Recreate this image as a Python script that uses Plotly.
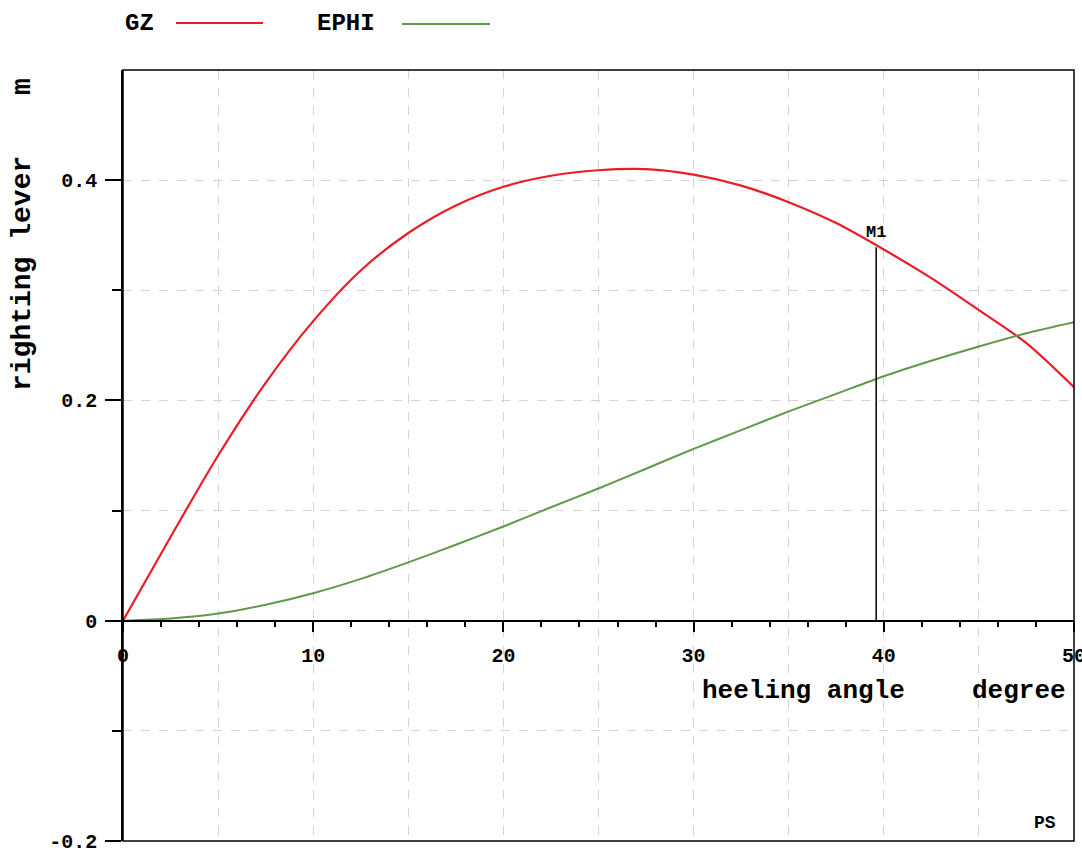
import plotly.graph_objects as go

# ---- data ----
angle = [0, 2.5, 5, 7.5, 10, 12.5, 15, 17.5, 20, 22.5, 25, 27.5, 30, 32.5, 35, 37.5, 40, 42.5, 45, 47.5, 50]
gz = [0, 0.076, 0.150, 0.216, 0.272, 0.318, 0.352, 0.377, 0.394, 0.404, 0.409, 0.410, 0.405, 0.395, 0.380, 0.361, 0.337, 0.311, 0.282, 0.252, 0.212]
ephi = [0, 0.002, 0.0065, 0.0145, 0.025, 0.038, 0.053, 0.069, 0.0855, 0.103, 0.120, 0.138, 0.156, 0.173, 0.190, 0.206, 0.222, 0.236, 0.249, 0.261, 0.271]
m1_angle = 39.6
m1_gz = 0.339
x_ticks = [0, 10, 20, 30, 40, 50]
y_ticks = [-0.2, 0, 0.2, 0.4]
y_tick_text = ["-0.2", "0", "0.2", "0.4"]

RED = "#ec1c24"
GREEN = "#5e9a4a"
FONT = "Liberation Mono"

fig = go.Figure()
fig.add_trace(go.Scatter(x=angle, y=gz, mode="lines", line=dict(color=RED, width=2.2, shape="spline", smoothing=0.8),
                         name="GZ", showlegend=False, cliponaxis=False))
fig.add_trace(go.Scatter(x=angle, y=ephi, mode="lines", line=dict(color=GREEN, width=2, shape="spline", smoothing=0.8),
                         name="EPHI", showlegend=False))
fig.add_trace(go.Scatter(x=[m1_angle, m1_angle], y=[0, m1_gz], mode="lines", line=dict(color="black", width=1.5),
                         showlegend=False, hoverinfo="skip", xaxis="x2"))

grid_col = "#d4d4d4"
fig.update_layout(
    width=1082, height=852,
    margin=dict(l=123, r=8, t=70, b=11),
    paper_bgcolor="white", plot_bgcolor="white",
    font=dict(family=FONT, color="black", size=20, weight="bold"),
    xaxis=dict(range=[0, 50], anchor="free", position=0.2857143, automargin=False,
               showline=True, linecolor="black", linewidth=1.5,
               tickvals=x_ticks, ticks="outside", ticklen=11, tickwidth=1.5, tickcolor="black",
               ticklabelstandoff=6, ticklabeloverflow="allow",
               tickfont=dict(family=FONT, size=20, weight="bold"),
               minor=dict(dtick=2, tick0=0, ticks="outside", ticklen=6, tickwidth=1.5, tickcolor="black", showgrid=False),
               showgrid=False, zeroline=False, fixedrange=True),
    xaxis2=dict(range=[0, 50], overlaying="x", anchor="y", side="top", dtick=5, tick0=0, automargin=False,
                showgrid=True, gridcolor=grid_col, griddash="dash", gridwidth=1,
                showticklabels=False, ticks="", showline=False, zeroline=False),
    yaxis=dict(range=[-0.2, 0.5], showline=True, linecolor="black", linewidth=1.5, automargin=False,
               tickvals=y_ticks, ticktext=y_tick_text, ticks="outside", ticklen=16, tickwidth=1.5, tickcolor="black",
               ticklabelstandoff=4, ticklabeloverflow="allow",
               tickfont=dict(family=FONT, size=20, weight="bold"),
               minor=dict(tickvals=[-0.1, 0.1, 0.3], ticks="outside", ticklen=9, tickwidth=1.5, tickcolor="black",
                          showgrid=True, gridcolor=grid_col, griddash="dash"),
               showgrid=True, gridcolor=grid_col, griddash="dash", zeroline=False),
)

# plot frame
fig.add_shape(type="rect", xref="paper", yref="paper", x0=0, x1=1, y0=0, y1=1,
              line=dict(color="black", width=1.5), layer="above")

# legend drawn as text + line
def px_x(p):
    return (p - 123) / 951.0

def px_y(p):
    return (841 - p) / 771.0

legend_y = px_y(24)
fig.add_annotation(x=px_x(123), y=legend_y, xref="paper", yref="paper", text="GZ", showarrow=False,
                   xanchor="left", yanchor="middle", font=dict(family=FONT, size=24, weight="bold"))
fig.add_shape(type="line", xref="paper", yref="paper", x0=px_x(176), x1=px_x(263), y0=px_y(23), y1=px_y(23),
              line=dict(color=RED, width=2))
fig.add_annotation(x=px_x(315), y=legend_y, xref="paper", yref="paper", text="EPHI", showarrow=False,
                   xanchor="left", yanchor="middle", font=dict(family=FONT, size=24, weight="bold"))
fig.add_shape(type="line", xref="paper", yref="paper", x0=px_x(402), x1=px_x(490), y0=px_y(24), y1=px_y(24),
              line=dict(color=GREEN, width=2))

# axis titles
fig.add_annotation(x=px_x(22), y=px_y(274), xref="paper", yref="paper", text="righting lever", textangle=-90,
                   showarrow=False, xanchor="center", yanchor="middle", font=dict(family=FONT, size=28, weight="bold"))
fig.add_annotation(x=px_x(22), y=px_y(87), xref="paper", yref="paper", text="m", textangle=-90,
                   showarrow=False, xanchor="center", yanchor="middle", font=dict(family=FONT, size=28, weight="bold"))
fig.add_annotation(x=px_x(700), y=px_y(691), xref="paper", yref="paper", text="heeling angle",
                   showarrow=False, xanchor="left", yanchor="middle", font=dict(family=FONT, size=26, weight="bold"))
fig.add_annotation(x=px_x(1068), y=px_y(691), xref="paper", yref="paper", text="degree",
                   showarrow=False, xanchor="right", yanchor="middle", font=dict(family=FONT, size=26, weight="bold"))
fig.add_annotation(x=px_x(1045), y=px_y(823), xref="paper", yref="paper", text="PS",
                   showarrow=False, xanchor="center", yanchor="middle", font=dict(family=FONT, size=18, weight="bold"))
fig.add_annotation(x=m1_angle, y=m1_gz, xref="x", yref="y", text="M1", showarrow=False,
                   xanchor="center", yanchor="bottom", yshift=3, font=dict(family=FONT, size=17, weight="bold"))

fig.write_html("out.html")
